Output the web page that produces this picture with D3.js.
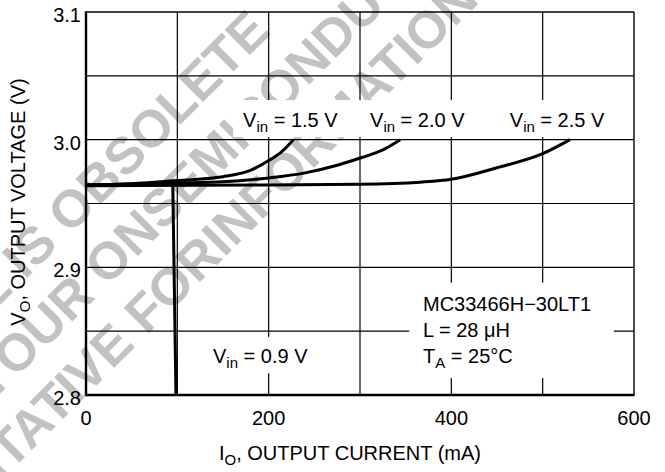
<!DOCTYPE html>
<html>
<head>
<meta charset="utf-8">
<script src="https://cdn.jsdelivr.net/npm/d3@7"></script>
<style>
  body { margin: 0; background: #fff; }
  text { font-family: "Liberation Sans", Arial, sans-serif; }
</style>
</head>
<body>
<svg width="665" height="472"></svg>
<script>
// data (mA, V)
const curve09 = [[0, 2.9645], [60, 2.965], [95, 2.966], [98.5, 2.8]];
const curve15 = [[0, 2.9645], [50, 2.9655], [100, 2.968], [150, 2.971], [180, 2.976], [201, 2.984], [215, 2.991], [227, 3.0]];
const curve20 = [[0, 2.9645], [100, 2.966], [150, 2.967], [200, 2.970], [240, 2.974], [275, 2.980], [302, 2.986], [325, 2.992], [344, 3.0]];
const curve25 = [[0, 2.964], [200, 2.9645], [300, 2.965], [366, 2.9667], [400, 2.969], [450, 2.978], [500, 2.989], [530, 3.0]];
const xTicks = [0, 200, 400, 600];
const yTicks = [2.8, 2.9, 3.0, 3.1];
const xGrid = [100, 200, 300, 400, 500];
const yGrid = [2.85, 2.9, 2.95, 3.0, 3.05];

const svg = d3.select("svg");
const margin = { top: 12, right: 31, bottom: 77, left: 86 };
const width = 665 - margin.left - margin.right;
const height = 472 - margin.top - margin.bottom;

// watermark
const wm = svg.append("g").attr("fill", "#c2c2c2").attr("font-weight", "bold").attr("font-size", 52);
const marks = [
    ["THIS DEVICE IS OBSOLETE", "", 272, 33],
    ["CONTACT YOUR ON ", "SEMICONDUCTOR", 162, 232],
    ["REPRESENTATIVE FOR ", "INFORMATION", 224, 258]
];
marks.forEach(m => {
    wm.append("text").attr("transform", `translate(${m[2]},${m[3]}) rotate(-45)`)
        .attr("text-anchor", "end").text(m[0]);
    wm.append("text").attr("transform", `translate(${m[2]},${m[3]}) rotate(-45)`)
        .attr("text-anchor", "start").text(m[1]);
});

const g = svg.append("g").attr("transform", `translate(${margin.left},${margin.top})`);
const x = d3.scaleLinear().domain([0, 600]).range([0, width]);
const y = d3.scaleLinear().domain([2.8, 3.1]).range([height, 0]);

// grid
g.selectAll(".xg").data(xGrid).enter().append("line")
    .attr("x1", d => x(d)).attr("x2", d => x(d)).attr("y1", 0).attr("y2", height)
    .attr("stroke", "#000").attr("stroke-width", 1.2);
g.selectAll(".yg").data(yGrid).enter().append("line")
    .attr("x1", 0).attr("x2", width).attr("y1", d => y(d)).attr("y2", d => y(d))
    .attr("stroke", "#000").attr("stroke-width", 1.2);

// white boxes behind labels
function box(a, b, c, d) {
    g.append("rect").attr("x", x(a)).attr("y", y(d)).attr("width", x(b) - x(a))
        .attr("height", y(c) - y(d)).attr("fill", "#fff");
}
box(161, 590, 3.002, 3.031);
box(130, 267, 2.817, 2.8455);
box(354, 578, 2.8133, 2.888);

// frame
g.append("line").attr("x1", 0).attr("x2", width).attr("y1", 0).attr("y2", 0).attr("stroke", "#000").attr("stroke-width", 1.6);
g.append("line").attr("x1", width).attr("x2", width).attr("y1", 0).attr("y2", height).attr("stroke", "#000").attr("stroke-width", 1.4);
g.append("line").attr("x1", 0).attr("x2", 0).attr("y1", -0.8).attr("y2", height + 1.2).attr("stroke", "#000").attr("stroke-width", 2.4);
g.append("line").attr("x1", 0).attr("x2", width + 0.7).attr("y1", height).attr("y2", height).attr("stroke", "#000").attr("stroke-width", 2.4);

// curves
const line = d3.line().x(d => x(d[0])).y(d => y(d[1])).curve(d3.curveMonotoneX);
const lineStraight = d3.line().x(d => x(d[0])).y(d => y(d[1]));
[curve15, curve20, curve25].forEach(c => {
    g.append("path").datum(c).attr("d", line).attr("fill", "none").attr("stroke", "#000").attr("stroke-width", 3);
});
g.append("path").datum(curve09).attr("d", lineStraight).attr("fill", "none").attr("stroke", "#000").attr("stroke-width", 3);

// tick labels
g.selectAll(".xl").data(xTicks).enter().append("text")
    .attr("x", d => x(d)).attr("y", height + 30).attr("text-anchor", "middle")
    .attr("font-size", 20).text(d => d);
g.selectAll(".yl").data(yTicks).enter().append("text")
    .attr("x", -5).attr("y", d => y(d) + 10).attr("text-anchor", "end")
    .attr("font-size", 20).text(d => d.toFixed(1));

// axis titles
const xt = svg.append("text").attr("x", 350).attr("y", 460).attr("text-anchor", "middle").attr("font-size", 20);
xt.append("tspan").text("I");
xt.append("tspan").attr("font-size", 15).attr("dy", 5).text("O");
xt.append("tspan").attr("dy", -5).text(", OUTPUT CURRENT (mA)");

const yt = svg.append("text").attr("transform", "translate(25,202) rotate(-90)").attr("text-anchor", "middle").attr("font-size", 20);
yt.append("tspan").text("V");
yt.append("tspan").attr("font-size", 15).attr("dy", 5).text("O");
yt.append("tspan").attr("dy", -5).text(", OUTPUT VOLTAGE (V)");

// curve labels
function vin(xv, yv, val) {
    const t = g.append("text").attr("x", x(xv)).attr("y", y(yv)).attr("font-size", 20);
    t.append("tspan").text("V");
    t.append("tspan").attr("font-size", 15).attr("dy", 5).text("in");
    t.append("tspan").attr("dy", -5).text(" = " + val + " V");
}
vin(172, 3.01, "1.5");
vin(311, 3.01, "2.0");
vin(464, 3.01, "2.5");
vin(139, 2.825, "0.9");

// annotation
const ax = x(369);
g.append("text").attr("x", ax).attr("y", y(2.866)).attr("font-size", 20).text("MC33466H\u221230LT1");
g.append("text").attr("x", ax).attr("y", y(2.8455)).attr("font-size", 20).text("L = 28 \u03bcH");
const ta = g.append("text").attr("x", ax).attr("y", y(2.825)).attr("font-size", 20);
ta.append("tspan").text("T");
ta.append("tspan").attr("font-size", 15).attr("dy", 5).text("A");
ta.append("tspan").attr("dy", -5).text(" = 25\u00b0C");
</script>
</body>
</html>
